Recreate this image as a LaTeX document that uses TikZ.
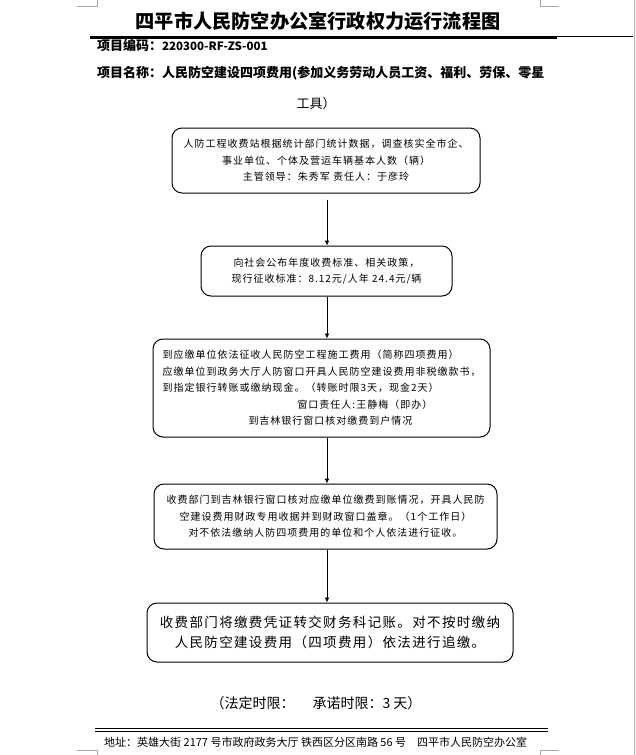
\documentclass[tikz,border=0pt]{standalone}
\usepackage{fontspec}
\setmainfont{Noto Sans CJK SC}
\newfontfamily\boxfont{Noto Sans CJK SC}[LetterSpace=10]
\usetikzlibrary{arrows.meta, positioning}

\tikzset{
    stage/.style={draw, line width=1pt, rounded corners=10pt, inner sep=0pt,
        align=center, font=\boxfont\fontsize{10}{16.5}\selectfont},
    flow/.style={-{Latex[length=5pt,width=5pt]}, line width=1pt},
    cropline/.style={gray!70, line width=0.6pt},
    header/.style={anchor=west, inner sep=0pt, font=\bfseries\fontsize{13}{13}\selectfont}
}

\begin{document}
\begin{tikzpicture}[x=1pt, y=-1pt]
    \useasboundingbox (0,0) rectangle (636,755);
    % page frame and crop marks
    \draw[gray!60, line width=0.8pt] (634.5,0) -- (634.5,755);
    \draw[cropline] (77,6) -- (97,6) -- (97,0) (540,0) -- (540,6) -- (559,6);
    \draw[cropline] (77,750) -- (97,750) -- (97,755) (540,755) -- (540,750) -- (559,750);

    \node[font=\bfseries\fontsize{19.2}{19}\selectfont] (title) at (318,21) {四平市人民防空办公室行政权力运行流程图};
    \draw[line width=0.8pt] (90,36.5) -- (633,36.5);
    \draw[line width=2.5pt] (90,37.8) -- (557,37.8);

    \node[header] (code) at (97,46) {项目编码：{\fontsize{11.5}{13}\selectfont 220300-RF-ZS-001}};
    \node[header] (name) at (97,73) {项目名称：人民防空建设四项费用(参加义务劳动人员工资、福利、劳保、零星};
    \node[font=\fontsize{13}{13}\selectfont] (name2) at (316,104) {工具）};

    \node[stage, minimum width=308pt, minimum height=65pt] (b1) at (326,160.5)
        {人防工程收费站根据统计部门统计数据，调查核实全市企、\\
         事业单位、个体及营运车辆基本人数（辆）\\
         主管领导：朱秀军\ 责任人：于彦玲};
    \node[stage, minimum width=251pt, minimum height=50pt] (b2) at (326.5,271)
        {向社会公布年度收费标准、相关政策，\\
         现行征收标准：8.12元/人年\ 24.4元/辆};
    \node[stage, align=left, minimum width=337pt, minimum height=98pt] (b3) at (321.5,388)
        {到应缴单位依法征收人民防空工程施工费用（简称四项费用）\\
         应缴单位到政务大厅人防窗口开具人民防空建设费用非税缴款书，\\
         到指定银行转账或缴纳现金。（转账时限3天，现金2天）\\
         \hspace*{135pt}窗口责任人:王静梅（即办）\\
         \hspace*{86pt}到吉林银行窗口核对缴费到户情况};
    \node[stage, minimum width=343pt, minimum height=65pt] (b4) at (325.5,516.5)
        {收费部门到吉林银行窗口核对应缴单位缴费到账情况，开具人民防\\
         空建设费用财政专用收据并到财政窗口盖章。（1个工作日）\\
         对不依法缴纳人防四项费用的单位和个人依法进行征收。};
    \node[stage, minimum width=366pt, minimum height=59pt,
          font=\boxfont\fontsize{13.5}{20}\selectfont] (b5) at (330,632.5)
        {收费部门将缴费凭证转交财务科记账。对不按时缴纳\\
         人民防空建设费用（四项费用）依法进行追缴。};

    \coordinate (spine) at (327,0);
    \draw[flow, shorten <=6pt] (spine |- b1.south) -- (spine |- b2.north);
    \foreach \a/\b in {b2/b3, b3/b4, b4/b5}
        \draw[flow] (spine |- \a.south) -- (spine |- \b.north);

    \node[font=\fontsize{14}{14}\selectfont] (limit) at (316,703)
        {（法定时限：\hspace{18pt}承诺时限：3 天）};

    \draw[line width=0.8pt] (95,728) -- (548,728) (95,731.5) -- (548,731.5);
    \node[anchor=west, inner sep=0pt, font=\fontsize{11}{11}\selectfont] (footer) at (104,742)
        {地址：英雄大街 2177 号市政府政务大厅 铁西区分区南路 56 号\quad 四平市人民防空办公室};
\end{tikzpicture}
\end{document}
